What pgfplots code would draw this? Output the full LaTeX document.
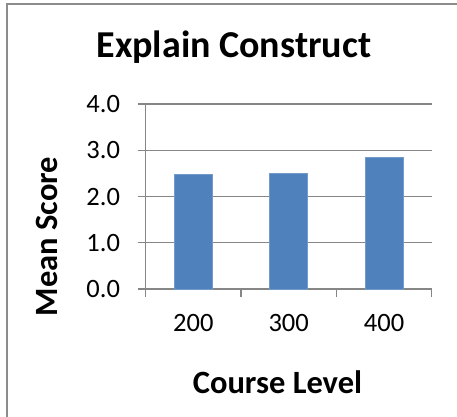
\documentclass[border=0pt]{standalone}
\usepackage{fontspec}
\setmainfont{Carlito}
\usepackage{pgfplots}
\pgfplotsset{compat=1.18}
\definecolor{barblue}{HTML}{4F81BD}
\definecolor{gridgray}{HTML}{868686}
\definecolor{framegray}{HTML}{8C8C8C}
\begin{document}
\begin{tikzpicture}
\useasboundingbox (0pt,0pt) rectangle (457pt,416pt);
\draw[framegray, line width=1.6pt] (7pt,-5pt) -- (7pt,412pt) -- (470pt,412pt);
\begin{axis}[
  at={(145.7pt,127pt)}, anchor=south west,
  scale only axis, width=286pt, height=185pt,
  xmin=0.5, xmax=3.5, ymin=0, ymax=4,
  axis x line*=bottom, axis y line*=left,
  axis line style={gridgray, line width=1.4pt, -},
  xtick={1,2,3}, xticklabels={200,300,400},
  minor xtick={0.5,1.5,2.5,3.5},
  ytick={0,1,2,3,4},
  ymajorgrids, grid style={gridgray, line width=1.4pt},
  tick align=outside,
  major x tick style={draw=none},
  minor x tick style={gridgray, line width=1.4pt},
  major y tick style={gridgray, line width=1.4pt},
  major tick length=8pt, minor tick length=8pt,
  /pgf/number format/assume math mode=true,
  yticklabel={\pgfmathprintnumber[fixed,fixed zerofill,precision=1]{\tick}},
  ticklabel style={font=\fontsize{26.5}{30}\selectfont},
  yticklabel style={inner sep=0pt, xshift=-17.5pt},
  xticklabel style={inner sep=0pt, yshift=-17pt},
  ybar, bar width=38pt,
]
\addplot[fill=barblue, draw=barblue!80!white, line width=0.8pt] coordinates {(1,2.47) (2,2.50) (3,2.85)};
\end{axis}
\node[anchor=base, font=\fontsize{38}{42}\selectfont\bfseries] at (233.8pt,359pt) {Explain Construct};
\node[anchor=base, font=\fontsize{32.5}{36}\selectfont\bfseries] at (277.5pt,22.7pt) {Course Level};
\node[anchor=base, rotate=90, font=\fontsize{32.5}{36}\selectfont\bfseries] at (57pt,179.5pt) {Mean Score};
\end{tikzpicture}
\end{document}
